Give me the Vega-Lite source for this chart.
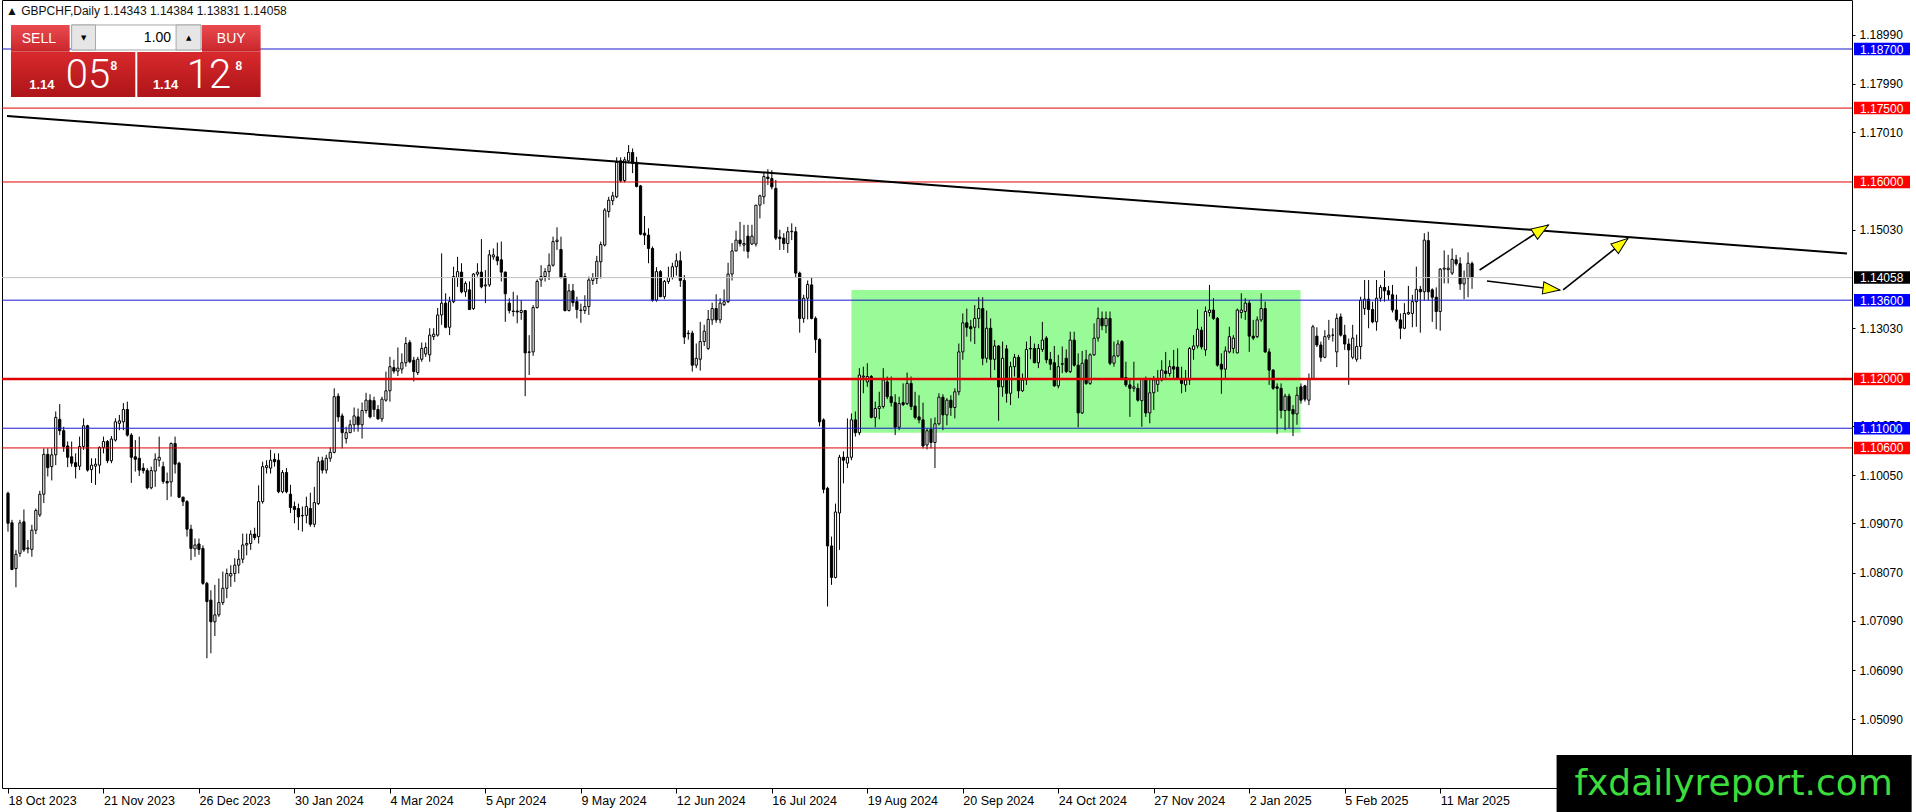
{
  "$schema": "https://vega.github.io/schema/vega-lite/v6.json",
  "width": 1850,
  "height": 788,
  "autosize": {"type": "none"},
  "padding": {"left": 2, "top": 0, "right": 64, "bottom": 24},
  "background": "white",
  "config": {
    "view": {"stroke": "black", "strokeWidth": 1},
    "font": "Liberation Sans",
    "axis": {"grid": false, "domain": false, "tickColor": "black", "labelColor": "black", "labelFont": "Liberation Sans", "labelFontSize": 12}
  },
  "title": {
    "text": "▲ GBPCHF,Daily  1.14343 1.14384 1.13831 1.14058",
    "anchor": "start",
    "frame": "group",
    "orient": "top",
    "offset": -18,
    "dx": 4,
    "fontSize": 12,
    "fontWeight": "normal",
    "font": "Liberation Sans",
    "color": "#111111"
  },
  "resolve": {"scale": {"color": "independent"}},
  "datasets": {
    "candles": [
      {"i":0,"o":1.0968,"h":1.0971,"l":1.0890,"c":1.0907},
      {"i":1,"o":1.0908,"h":1.0914,"l":1.0812,"c":1.0813},
      {"i":2,"o":1.0815,"h":1.0853,"l":1.0777,"c":1.0844},
      {"i":3,"o":1.0846,"h":1.0914,"l":1.0839,"c":1.0908},
      {"i":4,"o":1.0910,"h":1.0935,"l":1.0849,"c":1.0853},
      {"i":5,"o":1.0855,"h":1.0873,"l":1.0846,"c":1.0857},
      {"i":6,"o":1.0854,"h":1.0904,"l":1.0839,"c":1.0893},
      {"i":7,"o":1.0893,"h":1.0937,"l":1.0885,"c":1.0933},
      {"i":8,"o":1.0924,"h":1.0973,"l":1.0920,"c":1.0966},
      {"i":9,"o":1.0966,"h":1.1059,"l":1.0948,"c":1.1047},
      {"i":10,"o":1.1047,"h":1.1059,"l":1.1002,"c":1.1020},
      {"i":11,"o":1.1022,"h":1.1059,"l":1.0994,"c":1.1046},
      {"i":12,"o":1.1046,"h":1.1134,"l":1.1025,"c":1.1122},
      {"i":13,"o":1.1118,"h":1.1149,"l":1.1086,"c":1.1095},
      {"i":14,"o":1.1095,"h":1.1103,"l":1.1052,"c":1.1063},
      {"i":15,"o":1.1064,"h":1.1073,"l":1.1021,"c":1.1041},
      {"i":16,"o":1.1042,"h":1.1073,"l":1.1022,"c":1.1029},
      {"i":17,"o":1.1030,"h":1.1049,"l":1.0998,"c":1.1022},
      {"i":18,"o":1.1023,"h":1.1083,"l":1.1015,"c":1.1063},
      {"i":19,"o":1.1063,"h":1.1120,"l":1.1056,"c":1.1105},
      {"i":20,"o":1.1105,"h":1.1107,"l":1.1012,"c":1.1015},
      {"i":21,"o":1.1016,"h":1.1039,"l":1.0989,"c":1.1025},
      {"i":22,"o":1.1023,"h":1.1039,"l":1.0985,"c":1.1027},
      {"i":23,"o":1.1025,"h":1.1063,"l":1.1008,"c":1.1061},
      {"i":24,"o":1.1061,"h":1.1083,"l":1.1049,"c":1.1073},
      {"i":25,"o":1.1073,"h":1.1076,"l":1.1029,"c":1.1034},
      {"i":26,"o":1.1034,"h":1.1084,"l":1.1029,"c":1.1078},
      {"i":27,"o":1.1076,"h":1.1120,"l":1.1073,"c":1.1113},
      {"i":28,"o":1.1110,"h":1.1127,"l":1.1096,"c":1.1115},
      {"i":29,"o":1.1113,"h":1.1151,"l":1.1096,"c":1.1138},
      {"i":30,"o":1.1138,"h":1.1154,"l":1.1083,"c":1.1086},
      {"i":31,"o":1.1086,"h":1.1090,"l":1.0989,"c":1.1041},
      {"i":32,"o":1.1042,"h":1.1076,"l":1.1012,"c":1.1037},
      {"i":33,"o":1.1039,"h":1.1083,"l":1.1003,"c":1.1015},
      {"i":34,"o":1.1019,"h":1.1029,"l":1.1008,"c":1.1014},
      {"i":35,"o":1.1014,"h":1.1019,"l":1.0976,"c":1.0979},
      {"i":36,"o":1.0979,"h":1.1022,"l":1.0976,"c":1.1014},
      {"i":37,"o":1.1013,"h":1.1049,"l":1.0981,"c":1.1037},
      {"i":38,"o":1.1035,"h":1.1083,"l":1.1022,"c":1.1041},
      {"i":39,"o":1.1022,"h":1.1032,"l":1.0987,"c":1.0992},
      {"i":40,"o":1.0992,"h":1.1010,"l":1.0954,"c":1.0989},
      {"i":41,"o":1.0991,"h":1.1071,"l":1.0961,"c":1.1069},
      {"i":42,"o":1.1069,"h":1.1083,"l":1.1008,"c":1.1027},
      {"i":43,"o":1.1029,"h":1.1032,"l":1.0958,"c":1.0960},
      {"i":44,"o":1.0960,"h":1.0961,"l":1.0942,"c":1.0951},
      {"i":45,"o":1.0951,"h":1.0954,"l":1.0880,"c":1.0895},
      {"i":46,"o":1.0895,"h":1.0904,"l":1.0832,"c":1.0856},
      {"i":47,"o":1.0855,"h":1.0876,"l":1.0839,"c":1.0863},
      {"i":48,"o":1.0865,"h":1.0876,"l":1.0843,"c":1.0854},
      {"i":49,"o":1.0856,"h":1.0862,"l":1.0782,"c":1.0785},
      {"i":50,"o":1.0785,"h":1.0788,"l":1.0633,"c":1.0748},
      {"i":51,"o":1.0751,"h":1.0771,"l":1.0643,"c":1.0707},
      {"i":52,"o":1.0707,"h":1.0782,"l":1.0678,"c":1.0721},
      {"i":53,"o":1.0721,"h":1.0795,"l":1.0717,"c":1.0746},
      {"i":54,"o":1.0746,"h":1.0809,"l":1.0741,"c":1.0775},
      {"i":55,"o":1.0775,"h":1.0815,"l":1.0755,"c":1.0805},
      {"i":56,"o":1.0800,"h":1.0822,"l":1.0778,"c":1.0805},
      {"i":57,"o":1.0805,"h":1.0836,"l":1.0788,"c":1.0822},
      {"i":58,"o":1.0822,"h":1.0853,"l":1.0805,"c":1.0834},
      {"i":59,"o":1.0834,"h":1.0886,"l":1.0826,"c":1.0863},
      {"i":60,"o":1.0863,"h":1.0886,"l":1.0842,"c":1.0866},
      {"i":61,"o":1.0866,"h":1.0893,"l":1.0853,"c":1.0885},
      {"i":62,"o":1.0885,"h":1.0898,"l":1.0873,"c":1.0878},
      {"i":63,"o":1.0880,"h":1.0984,"l":1.0866,"c":1.0951},
      {"i":64,"o":1.0951,"h":1.1032,"l":1.0947,"c":1.1022},
      {"i":65,"o":1.1020,"h":1.1035,"l":1.1008,"c":1.1024},
      {"i":66,"o":1.1019,"h":1.1056,"l":1.1008,"c":1.1035},
      {"i":67,"o":1.1037,"h":1.1049,"l":1.1022,"c":1.1032},
      {"i":68,"o":1.1035,"h":1.1049,"l":1.0968,"c":1.0971},
      {"i":69,"o":1.0971,"h":1.1015,"l":1.0968,"c":1.1010},
      {"i":70,"o":1.1010,"h":1.1019,"l":1.0968,"c":1.0971},
      {"i":71,"o":1.0966,"h":1.0985,"l":1.0928,"c":1.0939},
      {"i":72,"o":1.0941,"h":1.0951,"l":1.0907,"c":1.0935},
      {"i":73,"o":1.0937,"h":1.0947,"l":1.0893,"c":1.0920},
      {"i":74,"o":1.0922,"h":1.0941,"l":1.0890,"c":1.0923},
      {"i":75,"o":1.0923,"h":1.0961,"l":1.0907,"c":1.0941},
      {"i":76,"o":1.0937,"h":1.0969,"l":1.0900,"c":1.0905},
      {"i":77,"o":1.0905,"h":1.0981,"l":1.0899,"c":1.0949},
      {"i":78,"o":1.0947,"h":1.1042,"l":1.0944,"c":1.1032},
      {"i":79,"o":1.1034,"h":1.1042,"l":1.1008,"c":1.1015},
      {"i":80,"o":1.1015,"h":1.1046,"l":1.1008,"c":1.1039},
      {"i":81,"o":1.1039,"h":1.1061,"l":1.1032,"c":1.1051},
      {"i":82,"o":1.1051,"h":1.1181,"l":1.1049,"c":1.1164},
      {"i":83,"o":1.1165,"h":1.1171,"l":1.1113,"c":1.1123},
      {"i":84,"o":1.1125,"h":1.1130,"l":1.1059,"c":1.1091},
      {"i":85,"o":1.1079,"h":1.1103,"l":1.1069,"c":1.1091},
      {"i":86,"o":1.1091,"h":1.1117,"l":1.1090,"c":1.1107},
      {"i":87,"o":1.1107,"h":1.1142,"l":1.1093,"c":1.1125},
      {"i":88,"o":1.1123,"h":1.1140,"l":1.1093,"c":1.1107},
      {"i":89,"o":1.1107,"h":1.1152,"l":1.1079,"c":1.1136},
      {"i":90,"o":1.1136,"h":1.1172,"l":1.1130,"c":1.1157},
      {"i":91,"o":1.1157,"h":1.1169,"l":1.1120,"c":1.1123},
      {"i":92,"o":1.1156,"h":1.1164,"l":1.1123,"c":1.1138},
      {"i":93,"o":1.1138,"h":1.1147,"l":1.1117,"c":1.1119},
      {"i":94,"o":1.1119,"h":1.1164,"l":1.1113,"c":1.1159},
      {"i":95,"o":1.1157,"h":1.1215,"l":1.1154,"c":1.1176},
      {"i":96,"o":1.1176,"h":1.1245,"l":1.1154,"c":1.1225},
      {"i":97,"o":1.1223,"h":1.1239,"l":1.1211,"c":1.1216},
      {"i":98,"o":1.1216,"h":1.1264,"l":1.1206,"c":1.1222},
      {"i":99,"o":1.1220,"h":1.1252,"l":1.1211,"c":1.1233},
      {"i":100,"o":1.1233,"h":1.1285,"l":1.1225,"c":1.1272},
      {"i":101,"o":1.1274,"h":1.1279,"l":1.1232,"c":1.1235},
      {"i":102,"o":1.1238,"h":1.1245,"l":1.1195,"c":1.1215},
      {"i":103,"o":1.1213,"h":1.1245,"l":1.1208,"c":1.1240},
      {"i":104,"o":1.1240,"h":1.1274,"l":1.1235,"c":1.1262},
      {"i":105,"o":1.1251,"h":1.1274,"l":1.1245,"c":1.1264},
      {"i":106,"o":1.1249,"h":1.1303,"l":1.1235,"c":1.1289},
      {"i":107,"o":1.1286,"h":1.1303,"l":1.1279,"c":1.1291},
      {"i":108,"o":1.1289,"h":1.1344,"l":1.1286,"c":1.1330},
      {"i":109,"o":1.1330,"h":1.1455,"l":1.1310,"c":1.1354},
      {"i":110,"o":1.1354,"h":1.1374,"l":1.1303,"c":1.1305},
      {"i":111,"o":1.1305,"h":1.1367,"l":1.1289,"c":1.1357},
      {"i":112,"o":1.1357,"h":1.1428,"l":1.1354,"c":1.1408},
      {"i":113,"o":1.1406,"h":1.1448,"l":1.1387,"c":1.1418},
      {"i":114,"o":1.1417,"h":1.1435,"l":1.1374,"c":1.1377},
      {"i":115,"o":1.1377,"h":1.1398,"l":1.1367,"c":1.1394},
      {"i":116,"o":1.1381,"h":1.1398,"l":1.1340,"c":1.1341},
      {"i":117,"o":1.1343,"h":1.1415,"l":1.1340,"c":1.1413},
      {"i":118,"o":1.1413,"h":1.1435,"l":1.1408,"c":1.1417},
      {"i":119,"o":1.1417,"h":1.1484,"l":1.1384,"c":1.1387},
      {"i":120,"o":1.1389,"h":1.1421,"l":1.1354,"c":1.1391},
      {"i":121,"o":1.1391,"h":1.1462,"l":1.1387,"c":1.1452},
      {"i":122,"o":1.1448,"h":1.1465,"l":1.1442,"c":1.1452},
      {"i":123,"o":1.1448,"h":1.1477,"l":1.1431,"c":1.1440},
      {"i":124,"o":1.1442,"h":1.1479,"l":1.1398,"c":1.1417},
      {"i":125,"o":1.1417,"h":1.1418,"l":1.1316,"c":1.1373},
      {"i":126,"o":1.1354,"h":1.1364,"l":1.1333,"c":1.1339},
      {"i":127,"o":1.1338,"h":1.1377,"l":1.1327,"c":1.1337},
      {"i":128,"o":1.1338,"h":1.1370,"l":1.1313,"c":1.1336},
      {"i":129,"o":1.1335,"h":1.1360,"l":1.1320,"c":1.1339},
      {"i":130,"o":1.1339,"h":1.1340,"l":1.1165,"c":1.1253},
      {"i":131,"o":1.1254,"h":1.1289,"l":1.1208,"c":1.1255},
      {"i":132,"o":1.1255,"h":1.1350,"l":1.1247,"c":1.1345},
      {"i":133,"o":1.1345,"h":1.1402,"l":1.1343,"c":1.1398},
      {"i":134,"o":1.1401,"h":1.1431,"l":1.1387,"c":1.1408},
      {"i":135,"o":1.1408,"h":1.1425,"l":1.1398,"c":1.1418},
      {"i":136,"o":1.1418,"h":1.1455,"l":1.1401,"c":1.1431},
      {"i":137,"o":1.1431,"h":1.1489,"l":1.1428,"c":1.1479},
      {"i":138,"o":1.1479,"h":1.1508,"l":1.1462,"c":1.1482},
      {"i":139,"o":1.1463,"h":1.1489,"l":1.1404,"c":1.1406},
      {"i":140,"o":1.1408,"h":1.1415,"l":1.1337,"c":1.1339},
      {"i":141,"o":1.1339,"h":1.1393,"l":1.1337,"c":1.1379},
      {"i":142,"o":1.1379,"h":1.1393,"l":1.1347,"c":1.1355},
      {"i":143,"o":1.1357,"h":1.1367,"l":1.1323,"c":1.1341},
      {"i":144,"o":1.1339,"h":1.1353,"l":1.1314,"c":1.1340},
      {"i":145,"o":1.1339,"h":1.1370,"l":1.1332,"c":1.1347},
      {"i":146,"o":1.1347,"h":1.1408,"l":1.1330,"c":1.1401},
      {"i":147,"o":1.1400,"h":1.1415,"l":1.1391,"c":1.1406},
      {"i":148,"o":1.1404,"h":1.1450,"l":1.1393,"c":1.1439},
      {"i":149,"o":1.1438,"h":1.1479,"l":1.1404,"c":1.1473},
      {"i":150,"o":1.1472,"h":1.1547,"l":1.1469,"c":1.1543},
      {"i":151,"o":1.1540,"h":1.1570,"l":1.1528,"c":1.1563},
      {"i":152,"o":1.1562,"h":1.1580,"l":1.1553,"c":1.1572},
      {"i":153,"o":1.1570,"h":1.1650,"l":1.1567,"c":1.1640},
      {"i":154,"o":1.1643,"h":1.1650,"l":1.1599,"c":1.1603},
      {"i":155,"o":1.1603,"h":1.1651,"l":1.1599,"c":1.1645},
      {"i":156,"o":1.1643,"h":1.1675,"l":1.1638,"c":1.1660},
      {"i":157,"o":1.1660,"h":1.1668,"l":1.1618,"c":1.1638},
      {"i":158,"o":1.1640,"h":1.1651,"l":1.1589,"c":1.1591},
      {"i":159,"o":1.1592,"h":1.1594,"l":1.1492,"c":1.1494},
      {"i":160,"o":1.1496,"h":1.1531,"l":1.1472,"c":1.1492},
      {"i":161,"o":1.1492,"h":1.1506,"l":1.1435,"c":1.1465},
      {"i":162,"o":1.1465,"h":1.1469,"l":1.1357,"c":1.1360},
      {"i":163,"o":1.1360,"h":1.1427,"l":1.1357,"c":1.1418},
      {"i":164,"o":1.1418,"h":1.1421,"l":1.1366,"c":1.1367},
      {"i":165,"o":1.1367,"h":1.1401,"l":1.1362,"c":1.1398},
      {"i":166,"o":1.1398,"h":1.1428,"l":1.1393,"c":1.1406},
      {"i":167,"o":1.1406,"h":1.1436,"l":1.1402,"c":1.1428},
      {"i":168,"o":1.1428,"h":1.1455,"l":1.1410,"c":1.1440},
      {"i":169,"o":1.1440,"h":1.1459,"l":1.1387,"c":1.1400},
      {"i":170,"o":1.1400,"h":1.1411,"l":1.1271,"c":1.1285},
      {"i":171,"o":1.1293,"h":1.1299,"l":1.1280,"c":1.1292},
      {"i":172,"o":1.1293,"h":1.1298,"l":1.1215,"c":1.1228},
      {"i":173,"o":1.1228,"h":1.1272,"l":1.1222,"c":1.1242},
      {"i":174,"o":1.1240,"h":1.1316,"l":1.1217,"c":1.1276},
      {"i":175,"o":1.1276,"h":1.1310,"l":1.1267,"c":1.1297},
      {"i":176,"o":1.1262,"h":1.1340,"l":1.1259,"c":1.1321},
      {"i":177,"o":1.1320,"h":1.1355,"l":1.1310,"c":1.1343},
      {"i":178,"o":1.1343,"h":1.1372,"l":1.1314,"c":1.1320},
      {"i":179,"o":1.1320,"h":1.1364,"l":1.1313,"c":1.1354},
      {"i":180,"o":1.1351,"h":1.1382,"l":1.1348,"c":1.1357},
      {"i":181,"o":1.1357,"h":1.1436,"l":1.1354,"c":1.1413},
      {"i":182,"o":1.1413,"h":1.1476,"l":1.1400,"c":1.1460},
      {"i":183,"o":1.1460,"h":1.1501,"l":1.1459,"c":1.1482},
      {"i":184,"o":1.1482,"h":1.1519,"l":1.1469,"c":1.1475},
      {"i":185,"o":1.1472,"h":1.1513,"l":1.1459,"c":1.1475},
      {"i":186,"o":1.1490,"h":1.1513,"l":1.1445,"c":1.1459},
      {"i":187,"o":1.1474,"h":1.1513,"l":1.1472,"c":1.1490},
      {"i":188,"o":1.1474,"h":1.1553,"l":1.1469,"c":1.1553},
      {"i":189,"o":1.1553,"h":1.1574,"l":1.1526,"c":1.1572},
      {"i":190,"o":1.1570,"h":1.1620,"l":1.1555,"c":1.1611},
      {"i":191,"o":1.1610,"h":1.1626,"l":1.1594,"c":1.1607},
      {"i":192,"o":1.1607,"h":1.1624,"l":1.1585,"c":1.1590},
      {"i":193,"o":1.1587,"h":1.1604,"l":1.1482,"c":1.1486},
      {"i":194,"o":1.1488,"h":1.1503,"l":1.1462,"c":1.1485},
      {"i":195,"o":1.1486,"h":1.1496,"l":1.1462,"c":1.1475},
      {"i":196,"o":1.1475,"h":1.1509,"l":1.1456,"c":1.1499},
      {"i":197,"o":1.1499,"h":1.1516,"l":1.1482,"c":1.1500},
      {"i":198,"o":1.1499,"h":1.1509,"l":1.1406,"c":1.1415},
      {"i":199,"o":1.1415,"h":1.1418,"l":1.1294,"c":1.1323},
      {"i":200,"o":1.1323,"h":1.1371,"l":1.1314,"c":1.1364},
      {"i":201,"o":1.1364,"h":1.1400,"l":1.1321,"c":1.1392},
      {"i":202,"o":1.1391,"h":1.1406,"l":1.1321,"c":1.1323},
      {"i":203,"o":1.1323,"h":1.1327,"l":1.1253,"c":1.1280},
      {"i":204,"o":1.1280,"h":1.1283,"l":1.1104,"c":1.1113},
      {"i":205,"o":1.1117,"h":1.1120,"l":1.0968,"c":1.0976},
      {"i":206,"o":1.0978,"h":1.0981,"l":1.0738,"c":1.0861},
      {"i":207,"o":1.0861,"h":1.0880,"l":1.0782,"c":1.0797},
      {"i":208,"o":1.0797,"h":1.0947,"l":1.0795,"c":1.0930},
      {"i":209,"o":1.0928,"h":1.1046,"l":1.0853,"c":1.1041},
      {"i":210,"o":1.1041,"h":1.1053,"l":1.0988,"c":1.1035},
      {"i":211,"o":1.1029,"h":1.1120,"l":1.1019,"c":1.1041},
      {"i":212,"o":1.1041,"h":1.1130,"l":1.1035,"c":1.1117},
      {"i":213,"o":1.1117,"h":1.1134,"l":1.1083,"c":1.1091},
      {"i":214,"o":1.1091,"h":1.1222,"l":1.1086,"c":1.1208},
      {"i":215,"o":1.1204,"h":1.1225,"l":1.1171,"c":1.1206},
      {"i":216,"o":1.1194,"h":1.1232,"l":1.1184,"c":1.1205},
      {"i":217,"o":1.1205,"h":1.1208,"l":1.1120,"c":1.1122},
      {"i":218,"o":1.1122,"h":1.1154,"l":1.1102,"c":1.1140},
      {"i":219,"o":1.1140,"h":1.1174,"l":1.1118,"c":1.1144},
      {"i":220,"o":1.1144,"h":1.1222,"l":1.1140,"c":1.1198},
      {"i":221,"o":1.1194,"h":1.1205,"l":1.1159,"c":1.1164},
      {"i":222,"o":1.1164,"h":1.1205,"l":1.1144,"c":1.1152},
      {"i":223,"o":1.1152,"h":1.1169,"l":1.1086,"c":1.1102},
      {"i":224,"o":1.1102,"h":1.1164,"l":1.1096,"c":1.1150},
      {"i":225,"o":1.1152,"h":1.1191,"l":1.1145,"c":1.1148},
      {"i":226,"o":1.1150,"h":1.1213,"l":1.1147,"c":1.1191},
      {"i":227,"o":1.1191,"h":1.1205,"l":1.1137,"c":1.1144},
      {"i":228,"o":1.1145,"h":1.1174,"l":1.1118,"c":1.1122},
      {"i":229,"o":1.1123,"h":1.1167,"l":1.1110,"c":1.1117},
      {"i":230,"o":1.1117,"h":1.1152,"l":1.1059,"c":1.1064},
      {"i":231,"o":1.1066,"h":1.1100,"l":1.1057,"c":1.1095},
      {"i":232,"o":1.1098,"h":1.1120,"l":1.1059,"c":1.1071},
      {"i":233,"o":1.1071,"h":1.1122,"l":1.1019,"c":1.1109},
      {"i":234,"o":1.1109,"h":1.1171,"l":1.1106,"c":1.1163},
      {"i":235,"o":1.1163,"h":1.1169,"l":1.1096,"c":1.1127},
      {"i":236,"o":1.1127,"h":1.1161,"l":1.1106,"c":1.1157},
      {"i":237,"o":1.1157,"h":1.1167,"l":1.1125,"c":1.1142},
      {"i":238,"o":1.1142,"h":1.1181,"l":1.1120,"c":1.1174},
      {"i":239,"o":1.1174,"h":1.1272,"l":1.1167,"c":1.1255},
      {"i":240,"o":1.1255,"h":1.1333,"l":1.1239,"c":1.1314},
      {"i":241,"o":1.1314,"h":1.1343,"l":1.1286,"c":1.1305},
      {"i":242,"o":1.1306,"h":1.1320,"l":1.1276,"c":1.1302},
      {"i":243,"o":1.1305,"h":1.1350,"l":1.1271,"c":1.1323},
      {"i":244,"o":1.1323,"h":1.1366,"l":1.1303,"c":1.1343},
      {"i":245,"o":1.1343,"h":1.1366,"l":1.1228,"c":1.1242},
      {"i":246,"o":1.1242,"h":1.1339,"l":1.1233,"c":1.1303},
      {"i":247,"o":1.1303,"h":1.1323,"l":1.1198,"c":1.1240},
      {"i":248,"o":1.1240,"h":1.1279,"l":1.1218,"c":1.1267},
      {"i":249,"o":1.1267,"h":1.1269,"l":1.1115,"c":1.1184},
      {"i":250,"o":1.1184,"h":1.1276,"l":1.1164,"c":1.1242},
      {"i":251,"o":1.1261,"h":1.1269,"l":1.1152,"c":1.1171},
      {"i":252,"o":1.1171,"h":1.1235,"l":1.1147,"c":1.1225},
      {"i":253,"o":1.1225,"h":1.1251,"l":1.1205,"c":1.1244},
      {"i":254,"o":1.1244,"h":1.1249,"l":1.1161,"c":1.1176},
      {"i":255,"o":1.1176,"h":1.1211,"l":1.1174,"c":1.1198},
      {"i":256,"o":1.1198,"h":1.1276,"l":1.1188,"c":1.1260},
      {"i":257,"o":1.1262,"h":1.1287,"l":1.1240,"c":1.1261},
      {"i":258,"o":1.1262,"h":1.1272,"l":1.1232,"c":1.1233},
      {"i":259,"o":1.1233,"h":1.1271,"l":1.1222,"c":1.1262},
      {"i":260,"o":1.1260,"h":1.1316,"l":1.1255,"c":1.1279},
      {"i":261,"o":1.1283,"h":1.1287,"l":1.1232,"c":1.1239},
      {"i":262,"o":1.1240,"h":1.1255,"l":1.1218,"c":1.1230},
      {"i":263,"o":1.1233,"h":1.1267,"l":1.1184,"c":1.1186},
      {"i":264,"o":1.1186,"h":1.1249,"l":1.1181,"c":1.1225},
      {"i":265,"o":1.1231,"h":1.1266,"l":1.1212,"c":1.1230},
      {"i":266,"o":1.1242,"h":1.1260,"l":1.1212,"c":1.1215},
      {"i":267,"o":1.1215,"h":1.1296,"l":1.1212,"c":1.1279},
      {"i":268,"o":1.1279,"h":1.1296,"l":1.1225,"c":1.1228},
      {"i":269,"o":1.1228,"h":1.1252,"l":1.1102,"c":1.1131},
      {"i":270,"o":1.1131,"h":1.1257,"l":1.1129,"c":1.1232},
      {"i":271,"o":1.1239,"h":1.1259,"l":1.1188,"c":1.1191},
      {"i":272,"o":1.1191,"h":1.1252,"l":1.1188,"c":1.1249},
      {"i":273,"o":1.1249,"h":1.1313,"l":1.1247,"c":1.1283},
      {"i":274,"o":1.1283,"h":1.1345,"l":1.1276,"c":1.1323},
      {"i":275,"o":1.1323,"h":1.1337,"l":1.1299,"c":1.1308},
      {"i":276,"o":1.1308,"h":1.1337,"l":1.1293,"c":1.1323},
      {"i":277,"o":1.1323,"h":1.1337,"l":1.1228,"c":1.1232},
      {"i":278,"o":1.1232,"h":1.1276,"l":1.1225,"c":1.1247},
      {"i":279,"o":1.1247,"h":1.1279,"l":1.1244,"c":1.1271},
      {"i":280,"o":1.1276,"h":1.1279,"l":1.1198,"c":1.1201},
      {"i":281,"o":1.1203,"h":1.1235,"l":1.1184,"c":1.1188},
      {"i":282,"o":1.1188,"h":1.1201,"l":1.1123,"c":1.1181},
      {"i":283,"o":1.1181,"h":1.1235,"l":1.1174,"c":1.1184},
      {"i":284,"o":1.1181,"h":1.1191,"l":1.1154,"c":1.1157},
      {"i":285,"o":1.1156,"h":1.1199,"l":1.1103,"c":1.1199},
      {"i":286,"o":1.1199,"h":1.1205,"l":1.1123,"c":1.1131},
      {"i":287,"o":1.1131,"h":1.1198,"l":1.1110,"c":1.1172},
      {"i":288,"o":1.1172,"h":1.1206,"l":1.1137,"c":1.1198},
      {"i":289,"o":1.1189,"h":1.1218,"l":1.1174,"c":1.1198},
      {"i":290,"o":1.1198,"h":1.1238,"l":1.1195,"c":1.1218},
      {"i":291,"o":1.1216,"h":1.1255,"l":1.1198,"c":1.1211},
      {"i":292,"o":1.1211,"h":1.1238,"l":1.1205,"c":1.1225},
      {"i":293,"o":1.1225,"h":1.1259,"l":1.1198,"c":1.1220},
      {"i":294,"o":1.1224,"h":1.1262,"l":1.1198,"c":1.1201},
      {"i":295,"o":1.1201,"h":1.1225,"l":1.1171,"c":1.1191},
      {"i":296,"o":1.1188,"h":1.1218,"l":1.1174,"c":1.1198},
      {"i":297,"o":1.1198,"h":1.1265,"l":1.1188,"c":1.1262},
      {"i":298,"o":1.1260,"h":1.1289,"l":1.1239,"c":1.1267},
      {"i":299,"o":1.1267,"h":1.1341,"l":1.1262,"c":1.1301},
      {"i":300,"o":1.1299,"h":1.1306,"l":1.1260,"c":1.1265},
      {"i":301,"o":1.1259,"h":1.1347,"l":1.1247,"c":1.1337},
      {"i":302,"o":1.1335,"h":1.1391,"l":1.1327,"c":1.1340},
      {"i":303,"o":1.1340,"h":1.1364,"l":1.1320,"c":1.1323},
      {"i":304,"o":1.1323,"h":1.1326,"l":1.1225,"c":1.1228},
      {"i":305,"o":1.1230,"h":1.1252,"l":1.1170,"c":1.1220},
      {"i":306,"o":1.1220,"h":1.1266,"l":1.1198,"c":1.1257},
      {"i":307,"o":1.1255,"h":1.1306,"l":1.1252,"c":1.1286},
      {"i":308,"o":1.1262,"h":1.1289,"l":1.1252,"c":1.1283},
      {"i":309,"o":1.1253,"h":1.1343,"l":1.1252,"c":1.1340},
      {"i":310,"o":1.1335,"h":1.1374,"l":1.1323,"c":1.1340},
      {"i":311,"o":1.1337,"h":1.1364,"l":1.1320,"c":1.1354},
      {"i":312,"o":1.1354,"h":1.1360,"l":1.1255,"c":1.1287},
      {"i":313,"o":1.1287,"h":1.1320,"l":1.1279,"c":1.1283},
      {"i":314,"o":1.1286,"h":1.1327,"l":1.1283,"c":1.1320},
      {"i":315,"o":1.1320,"h":1.1374,"l":1.1316,"c":1.1343},
      {"i":316,"o":1.1343,"h":1.1357,"l":1.1253,"c":1.1255},
      {"i":317,"o":1.1255,"h":1.1262,"l":1.1188,"c":1.1218},
      {"i":318,"o":1.1218,"h":1.1220,"l":1.1178,"c":1.1181},
      {"i":319,"o":1.1184,"h":1.1191,"l":1.1088,"c":1.1181},
      {"i":320,"o":1.1181,"h":1.1191,"l":1.1120,"c":1.1136},
      {"i":321,"o":1.1136,"h":1.1170,"l":1.1096,"c":1.1165},
      {"i":322,"o":1.1165,"h":1.1170,"l":1.1100,"c":1.1136},
      {"i":323,"o":1.1138,"h":1.1147,"l":1.1084,"c":1.1129},
      {"i":324,"o":1.1129,"h":1.1184,"l":1.1107,"c":1.1167},
      {"i":325,"o":1.1184,"h":1.1191,"l":1.1150,"c":1.1157},
      {"i":326,"o":1.1186,"h":1.1188,"l":1.1154,"c":1.1159},
      {"i":327,"o":1.1157,"h":1.1211,"l":1.1147,"c":1.1201},
      {"i":328,"o":1.1201,"h":1.1310,"l":1.1198,"c":1.1306},
      {"i":329,"o":1.1287,"h":1.1305,"l":1.1265,"c":1.1269},
      {"i":330,"o":1.1269,"h":1.1276,"l":1.1235,"c":1.1244},
      {"i":331,"o":1.1244,"h":1.1299,"l":1.1242,"c":1.1286},
      {"i":332,"o":1.1285,"h":1.1320,"l":1.1279,"c":1.1289},
      {"i":333,"o":1.1289,"h":1.1303,"l":1.1276,"c":1.1289},
      {"i":334,"o":1.1255,"h":1.1333,"l":1.1224,"c":1.1323},
      {"i":335,"o":1.1326,"h":1.1333,"l":1.1286,"c":1.1289},
      {"i":336,"o":1.1289,"h":1.1310,"l":1.1259,"c":1.1271},
      {"i":337,"o":1.1271,"h":1.1282,"l":1.1188,"c":1.1259},
      {"i":338,"o":1.1244,"h":1.1310,"l":1.1240,"c":1.1283},
      {"i":339,"o":1.1240,"h":1.1290,"l":1.1235,"c":1.1266},
      {"i":340,"o":1.1266,"h":1.1367,"l":1.1240,"c":1.1360},
      {"i":341,"o":1.1343,"h":1.1401,"l":1.1330,"c":1.1362},
      {"i":342,"o":1.1362,"h":1.1401,"l":1.1303,"c":1.1341},
      {"i":343,"o":1.1341,"h":1.1357,"l":1.1313,"c":1.1316},
      {"i":344,"o":1.1316,"h":1.1401,"l":1.1298,"c":1.1364},
      {"i":345,"o":1.1364,"h":1.1391,"l":1.1357,"c":1.1386},
      {"i":346,"o":1.1386,"h":1.1420,"l":1.1357,"c":1.1379},
      {"i":347,"o":1.1379,"h":1.1389,"l":1.1360,"c":1.1371},
      {"i":348,"o":1.1371,"h":1.1391,"l":1.1335,"c":1.1340},
      {"i":349,"o":1.1340,"h":1.1371,"l":1.1316,"c":1.1320},
      {"i":350,"o":1.1320,"h":1.1333,"l":1.1281,"c":1.1303},
      {"i":351,"o":1.1303,"h":1.1354,"l":1.1301,"c":1.1333},
      {"i":352,"o":1.1332,"h":1.1389,"l":1.1330,"c":1.1335},
      {"i":353,"o":1.1333,"h":1.1371,"l":1.1305,"c":1.1357},
      {"i":354,"o":1.1357,"h":1.1428,"l":1.1306,"c":1.1382},
      {"i":355,"o":1.1382,"h":1.1389,"l":1.1294,"c":1.1377},
      {"i":356,"o":1.1377,"h":1.1496,"l":1.1359,"c":1.1482},
      {"i":357,"o":1.1481,"h":1.1499,"l":1.1359,"c":1.1377},
      {"i":358,"o":1.1381,"h":1.1384,"l":1.1316,"c":1.1366},
      {"i":359,"o":1.1366,"h":1.1386,"l":1.1301,"c":1.1337},
      {"i":360,"o":1.1337,"h":1.1425,"l":1.1298,"c":1.1423},
      {"i":361,"o":1.1423,"h":1.1461,"l":1.1394,"c":1.1425},
      {"i":362,"o":1.1422,"h":1.1452,"l":1.1394,"c":1.1425},
      {"i":363,"o":1.1415,"h":1.1465,"l":1.1411,"c":1.1443},
      {"i":364,"o":1.1442,"h":1.1452,"l":1.1430,"c":1.1434},
      {"i":365,"o":1.1434,"h":1.1447,"l":1.1381,"c":1.1393},
      {"i":366,"o":1.1393,"h":1.1420,"l":1.1362,"c":1.1405},
      {"i":367,"o":1.1405,"h":1.1457,"l":1.1366,"c":1.1435},
      {"i":368,"o":1.14343,"h":1.14384,"l":1.13831,"c":1.14058}
    ],
    "levels": [
      {"p":1.187,"k":"blue"},
      {"p":1.175,"k":"red"},
      {"p":1.16,"k":"red"},
      {"p":1.14058,"k":"last"},
      {"p":1.136,"k":"blue"},
      {"p":1.12,"k":"red"},
      {"p":1.11,"k":"blue"},
      {"p":1.106,"k":"red"}
    ],
    "zone": [{"from":212.0,"to":324.9,"low":1.10909,"high":1.13806}],
    "trend": [{"i":-0.25,"p":1.1734},{"i":462.25,"p":1.1455}],
    "arrows": [
      {"a":1,"i":369.9,"p":1.14213},{"a":1,"i":387.2,"p":1.15127},
      {"a":2,"i":371.75,"p":1.1399},{"a":2,"i":390.1,"p":1.13807},
      {"a":3,"i":390.9,"p":1.13807},{"a":3,"i":407.2,"p":1.14856}
    ],
    "heads": [
      {"i":387.2,"p":1.15127,"deg":57},
      {"i":390.1,"p":1.13807,"deg":97},
      {"i":407.2,"p":1.14856,"deg":52}
    ]
  },
  "layer": [
    {
      "data": {"name": "zone"},
      "mark": {"type": "rect", "color": "#98fb98", "opacity": 1},
      "encoding": {
        "x": {"field": "from", "type": "quantitative", "scale": {"domain": [-0.25, 462.25], "nice": false, "zero": false}, "title": null},
        "x2": {"field": "to"},
        "y": {"field": "low", "type": "quantitative", "scale": {"domain": [1.03695, 1.19695], "nice": false, "zero": false}, "title": null},
        "y2": {"field": "high"}
      }
    },
    {
      "data": {"name": "candles"},
      "mark": {"type": "rule", "color": "black", "strokeWidth": 1},
      "encoding": {
        "x": {
          "field": "i", "type": "quantitative", "title": null,
          "scale": {"domain": [-0.25, 462.25], "nice": false, "zero": false},
          "axis": {
            "values": [0, 24, 48, 72, 96, 120, 144, 168, 192, 216, 240, 264, 288, 312, 336, 360],
            "labelExpr": "['18 Oct 2023','21 Nov 2023','26 Dec 2023','30 Jan 2024','4 Mar 2024','5 Apr 2024','9 May 2024','12 Jun 2024','16 Jul 2024','19 Aug 2024','20 Sep 2024','24 Oct 2024','27 Nov 2024','2 Jan 2025','5 Feb 2025','11 Mar 2025'][round(datum.value / 24)]",
            "labelAlign": "left",
            "labelBaseline": "top",
            "labelPadding": 1,
            "labelFont": "Liberation Sans",
            "labelFontSize": 12.5,
            "labelColor": "black",
            "labelFlush": false,
            "labelOverlap": false,
            "tickSize": 5,
            "tickColor": "black",
            "domain": false,
            "grid": false,
            "zindex": 0
          }
        },
        "y": {
          "field": "l", "type": "quantitative", "title": null,
          "scale": {"domain": [1.03695, 1.19695], "nice": false, "zero": false},
          "axis": {
            "orient": "right",
            "values": [1.1899, 1.1799, 1.1701, 1.1503, 1.1303, 1.1105, 1.1005, 1.0907, 1.0807, 1.0709, 1.0609, 1.0509],
            "format": ".5f",
            "labelFont": "Liberation Sans",
            "labelFontSize": 12,
            "labelColor": "black",
            "labelPadding": 4,
            "labelOverlap": false,
            "labelFlush": false,
            "tickSize": 3,
            "tickColor": "black",
            "domain": false,
            "grid": false,
            "zindex": 0
          }
        },
        "y2": {"field": "h"}
      }
    },
    {
      "data": {"name": "candles"},
      "mark": {"type": "bar", "width": 2.2, "stroke": "black", "strokeWidth": 1},
      "encoding": {
        "x": {"field": "i", "type": "quantitative", "scale": {"domain": [-0.25, 462.25], "nice": false, "zero": false}, "title": null},
        "y": {"field": "o", "type": "quantitative", "scale": {"domain": [1.03695, 1.19695], "nice": false, "zero": false}, "title": null},
        "y2": {"field": "c"},
        "fill": {"condition": {"test": "datum.c >= datum.o", "value": "white"}, "value": "black"}
      }
    },
    {
      "data": {"name": "levels"},
      "mark": {"type": "rule"},
      "encoding": {
        "y": {"field": "p", "type": "quantitative", "scale": {"domain": [1.03695, 1.19695], "nice": false, "zero": false}, "title": null},
        "color": {"field": "k", "type": "nominal", "scale": {"domain": ["blue", "red", "last"], "range": ["#1a1acc", "#e00000", "#c0c0c0"]}, "legend": null},
        "strokeWidth": {"condition": {"test": "datum.p === 1.12", "value": 2.5}, "value": 1}
      }
    },
    {
      "data": {"name": "trend"},
      "mark": {"type": "line", "color": "black", "strokeWidth": 2},
      "encoding": {
        "x": {"field": "i", "type": "quantitative", "scale": {"domain": [-0.25, 462.25], "nice": false, "zero": false}, "title": null},
        "y": {"field": "p", "type": "quantitative", "scale": {"domain": [1.03695, 1.19695], "nice": false, "zero": false}, "title": null}
      }
    },
    {
      "data": {"name": "arrows"},
      "mark": {"type": "line", "color": "black", "strokeWidth": 1.6},
      "encoding": {
        "x": {"field": "i", "type": "quantitative", "scale": {"domain": [-0.25, 462.25], "nice": false, "zero": false}, "title": null},
        "y": {"field": "p", "type": "quantitative", "scale": {"domain": [1.03695, 1.19695], "nice": false, "zero": false}, "title": null},
        "detail": {"field": "a", "type": "nominal"}
      }
    },
    {
      "data": {"name": "heads"},
      "mark": {"type": "point", "shape": "M0,0L0.36,1L-0.36,1Z", "size": 1150, "filled": true, "fill": "#ffff00", "stroke": "black", "strokeWidth": 1, "opacity": 1},
      "encoding": {
        "x": {"field": "i", "type": "quantitative", "scale": {"domain": [-0.25, 462.25], "nice": false, "zero": false}, "title": null},
        "y": {"field": "p", "type": "quantitative", "scale": {"domain": [1.03695, 1.19695], "nice": false, "zero": false}, "title": null},
        "angle": {"field": "deg", "type": "quantitative", "scale": null}
      }
    },
    {
      "data": {"name": "levels"},
      "mark": {"type": "rule", "strokeWidth": 12.5, "strokeCap": "butt"},
      "encoding": {
        "y": {"field": "p", "type": "quantitative", "scale": {"domain": [1.03695, 1.19695], "nice": false, "zero": false}, "title": null},
        "x": {"value": {"expr": "width + 2"}},
        "x2": {"value": {"expr": "width + 58"}},
        "color": {"field": "k", "type": "nominal", "scale": {"domain": ["blue", "red", "last"], "range": ["#0000ff", "#ff0000", "#000000"]}, "legend": null}
      }
    },
    {
      "data": {"name": "levels"},
      "mark": {"type": "text", "align": "left", "baseline": "middle", "color": "white", "font": "Liberation Sans", "fontSize": 12, "dy": 0.5},
      "encoding": {
        "y": {"field": "p", "type": "quantitative", "scale": {"domain": [1.03695, 1.19695], "nice": false, "zero": false}, "title": null},
        "x": {"value": {"expr": "width + 8"}},
        "text": {"field": "p", "type": "quantitative", "format": ".5f"}
      }
    },
    {
      "data": {"values": [{}]},
      "mark": {"type": "rect", "fill": {"gradient": "linear", "x1": 0, "y1": 0, "x2": 0, "y2": 1, "stops": [{"offset": 0, "color": "#ea4b4e"}, {"offset": 1, "color": "#c9262b"}]}},
      "encoding": {
        "x": {"datum": 0.75, "type": "quantitative", "scale": {"domain": [-0.25, 462.25], "nice": false, "zero": false}, "title": null},
        "x2": {"datum": 15.5},
        "y": {"datum": 1.19188, "type": "quantitative", "scale": {"domain": [1.03695, 1.19695], "nice": false, "zero": false}, "title": null},
        "y2": {"datum": 1.18646}
      }
    },
    {
      "data": {"values": [{}]},
      "mark": {"type": "rect", "fill": {"gradient": "linear", "x1": 0, "y1": 0, "x2": 0, "y2": 1, "stops": [{"offset": 0, "color": "#ea4b4e"}, {"offset": 1, "color": "#c9262b"}]}},
      "encoding": {
        "x": {"datum": 48.75, "type": "quantitative", "scale": {"domain": [-0.25, 462.25], "nice": false, "zero": false}, "title": null},
        "x2": {"datum": 63.5},
        "y": {"datum": 1.19188, "type": "quantitative", "scale": {"domain": [1.03695, 1.19695], "nice": false, "zero": false}, "title": null},
        "y2": {"datum": 1.18646}
      }
    },
    {
      "data": {"values": [{}]},
      "mark": {"type": "rect", "fill": "white", "stroke": "#a8a8a8", "strokeWidth": 1},
      "encoding": {
        "x": {"datum": 16, "type": "quantitative", "scale": {"domain": [-0.25, 462.25], "nice": false, "zero": false}, "title": null},
        "x2": {"datum": 48.5},
        "y": {"datum": 1.19188, "type": "quantitative", "scale": {"domain": [1.03695, 1.19695], "nice": false, "zero": false}, "title": null},
        "y2": {"datum": 1.1868}
      }
    },
    {
      "data": {"values": [{}]},
      "mark": {"type": "rect", "fill": "#e6e6e6", "stroke": "#a8a8a8", "strokeWidth": 1},
      "encoding": {
        "x": {"datum": 16, "type": "quantitative", "scale": {"domain": [-0.25, 462.25], "nice": false, "zero": false}, "title": null},
        "x2": {"datum": 22},
        "y": {"datum": 1.19188, "type": "quantitative", "scale": {"domain": [1.03695, 1.19695], "nice": false, "zero": false}, "title": null},
        "y2": {"datum": 1.1868}
      }
    },
    {
      "data": {"values": [{}]},
      "mark": {"type": "rect", "fill": "#e6e6e6", "stroke": "#a8a8a8", "strokeWidth": 1},
      "encoding": {
        "x": {"datum": 42.25, "type": "quantitative", "scale": {"domain": [-0.25, 462.25], "nice": false, "zero": false}, "title": null},
        "x2": {"datum": 48.5},
        "y": {"datum": 1.19188, "type": "quantitative", "scale": {"domain": [1.03695, 1.19695], "nice": false, "zero": false}, "title": null},
        "y2": {"datum": 1.1868}
      }
    },
    {
      "data": {"values": [{}]},
      "mark": {"type": "rect", "fill": {"gradient": "linear", "x1": 0, "y1": 0, "x2": 0, "y2": 1, "stops": [{"offset": 0, "color": "#d82a2d"}, {"offset": 1, "color": "#ae1418"}]}},
      "encoding": {
        "x": {"datum": 0.75, "type": "quantitative", "scale": {"domain": [-0.25, 462.25], "nice": false, "zero": false}, "title": null},
        "x2": {"datum": 32},
        "y": {"datum": 1.1864, "type": "quantitative", "scale": {"domain": [1.03695, 1.19695], "nice": false, "zero": false}, "title": null},
        "y2": {"datum": 1.17726}
      }
    },
    {
      "data": {"values": [{}]},
      "mark": {"type": "rect", "fill": {"gradient": "linear", "x1": 0, "y1": 0, "x2": 0, "y2": 1, "stops": [{"offset": 0, "color": "#d82a2d"}, {"offset": 1, "color": "#ae1418"}]}},
      "encoding": {
        "x": {"datum": 32.5, "type": "quantitative", "scale": {"domain": [-0.25, 462.25], "nice": false, "zero": false}, "title": null},
        "x2": {"datum": 63.5},
        "y": {"datum": 1.1864, "type": "quantitative", "scale": {"domain": [1.03695, 1.19695], "nice": false, "zero": false}, "title": null},
        "y2": {"datum": 1.17726}
      }
    },
    {
      "data": {"values": [{}]},
      "mark": {"type": "text", "text": "SELL", "color": "white", "font": "Liberation Sans", "fontSize": 14, "align": "center", "baseline": "middle"},
      "encoding": {
        "x": {"datum": 7.75, "type": "quantitative", "scale": {"domain": [-0.25, 462.25], "nice": false, "zero": false}, "title": null},
        "y": {"datum": 1.18903, "type": "quantitative", "scale": {"domain": [1.03695, 1.19695], "nice": false, "zero": false}, "title": null}
      }
    },
    {
      "data": {"values": [{}]},
      "mark": {"type": "text", "text": "BUY", "color": "white", "font": "Liberation Sans", "fontSize": 14, "align": "center", "baseline": "middle"},
      "encoding": {
        "x": {"datum": 56.1, "type": "quantitative", "scale": {"domain": [-0.25, 462.25], "nice": false, "zero": false}, "title": null},
        "y": {"datum": 1.18903, "type": "quantitative", "scale": {"domain": [1.03695, 1.19695], "nice": false, "zero": false}, "title": null}
      }
    },
    {
      "data": {"values": [{}]},
      "mark": {"type": "text", "text": "1.00", "color": "black", "font": "Liberation Sans", "fontSize": 14, "align": "right", "baseline": "middle"},
      "encoding": {
        "x": {"datum": 41, "type": "quantitative", "scale": {"domain": [-0.25, 462.25], "nice": false, "zero": false}, "title": null},
        "y": {"datum": 1.18923, "type": "quantitative", "scale": {"domain": [1.03695, 1.19695], "nice": false, "zero": false}, "title": null}
      }
    },
    {
      "data": {"values": [{}]},
      "mark": {"type": "text", "text": "▼", "color": "black", "font": "DejaVu Sans", "fontSize": 7, "align": "center", "baseline": "middle"},
      "encoding": {
        "x": {"datum": 19, "type": "quantitative", "scale": {"domain": [-0.25, 462.25], "nice": false, "zero": false}, "title": null},
        "y": {"datum": 1.18923, "type": "quantitative", "scale": {"domain": [1.03695, 1.19695], "nice": false, "zero": false}, "title": null}
      }
    },
    {
      "data": {"values": [{}]},
      "mark": {"type": "text", "text": "▲", "color": "black", "font": "DejaVu Sans", "fontSize": 7, "align": "center", "baseline": "middle"},
      "encoding": {
        "x": {"datum": 45.4, "type": "quantitative", "scale": {"domain": [-0.25, 462.25], "nice": false, "zero": false}, "title": null},
        "y": {"datum": 1.18923, "type": "quantitative", "scale": {"domain": [1.03695, 1.19695], "nice": false, "zero": false}, "title": null}
      }
    },
    {
      "data": {"values": [{}]},
      "mark": {"type": "text", "text": "1.14", "color": "white", "font": "Liberation Sans", "fontSize": 13, "fontWeight": "bold", "align": "center", "baseline": "alphabetic"},
      "encoding": {
        "x": {"datum": 8.5, "type": "quantitative", "scale": {"domain": [-0.25, 462.25], "nice": false, "zero": false}, "title": null},
        "y": {"datum": 1.17888, "type": "quantitative", "scale": {"domain": [1.03695, 1.19695], "nice": false, "zero": false}, "title": null}
      }
    },
    {
      "data": {"values": [{}]},
      "mark": {"type": "text", "text": "05", "color": "white", "font": "Roboto", "fontSize": 40, "fontWeight": 300, "align": "center", "baseline": "alphabetic"},
      "encoding": {
        "x": {"datum": 20.1, "type": "quantitative", "scale": {"domain": [-0.25, 462.25], "nice": false, "zero": false}, "title": null},
        "y": {"datum": 1.17908, "type": "quantitative", "scale": {"domain": [1.03695, 1.19695], "nice": false, "zero": false}, "title": null}
      }
    },
    {
      "data": {"values": [{}]},
      "mark": {"type": "text", "text": "8", "color": "white", "font": "Liberation Sans", "fontSize": 12, "fontWeight": "bold", "align": "center", "baseline": "alphabetic"},
      "encoding": {
        "x": {"datum": 26.6, "type": "quantitative", "scale": {"domain": [-0.25, 462.25], "nice": false, "zero": false}, "title": null},
        "y": {"datum": 1.18274, "type": "quantitative", "scale": {"domain": [1.03695, 1.19695], "nice": false, "zero": false}, "title": null}
      }
    },
    {
      "data": {"values": [{}]},
      "mark": {"type": "text", "text": "1.14", "color": "white", "font": "Liberation Sans", "fontSize": 13, "fontWeight": "bold", "align": "center", "baseline": "alphabetic"},
      "encoding": {
        "x": {"datum": 39.6, "type": "quantitative", "scale": {"domain": [-0.25, 462.25], "nice": false, "zero": false}, "title": null},
        "y": {"datum": 1.17888, "type": "quantitative", "scale": {"domain": [1.03695, 1.19695], "nice": false, "zero": false}, "title": null}
      }
    },
    {
      "data": {"values": [{}]},
      "mark": {"type": "text", "text": "12", "color": "white", "font": "Roboto", "fontSize": 40, "fontWeight": 300, "align": "center", "baseline": "alphabetic"},
      "encoding": {
        "x": {"datum": 50.5, "type": "quantitative", "scale": {"domain": [-0.25, 462.25], "nice": false, "zero": false}, "title": null},
        "y": {"datum": 1.17908, "type": "quantitative", "scale": {"domain": [1.03695, 1.19695], "nice": false, "zero": false}, "title": null}
      }
    },
    {
      "data": {"values": [{}]},
      "mark": {"type": "text", "text": "8", "color": "white", "font": "Liberation Sans", "fontSize": 12, "fontWeight": "bold", "align": "center", "baseline": "alphabetic"},
      "encoding": {
        "x": {"datum": 58, "type": "quantitative", "scale": {"domain": [-0.25, 462.25], "nice": false, "zero": false}, "title": null},
        "y": {"datum": 1.18274, "type": "quantitative", "scale": {"domain": [1.03695, 1.19695], "nice": false, "zero": false}, "title": null}
      }
    },
    {
      "data": {"values": [{}]},
      "mark": {"type": "rect", "color": "black"},
      "encoding": {
        "x": {"datum": 389.25, "type": "quantitative", "scale": {"domain": [-0.25, 462.25], "nice": false, "zero": false}, "title": null},
        "x2": {"datum": 478.5},
        "y": {"datum": 1.04365, "type": "quantitative", "scale": {"domain": [1.03695, 1.19695], "nice": false, "zero": false}, "title": null},
        "y2": {"datum": 1.032}
      }
    },
    {
      "data": {"values": [{}]},
      "mark": {"type": "text", "text": "fxdailyreport.com", "color": "#3ddc3d", "font": "DejaVu Sans", "fontSize": 36, "align": "center", "baseline": "middle"},
      "encoding": {
        "x": {"datum": 433.75, "type": "quantitative", "scale": {"domain": [-0.25, 462.25], "nice": false, "zero": false}, "title": null},
        "y": {"datum": 1.0378, "type": "quantitative", "scale": {"domain": [1.03695, 1.19695], "nice": false, "zero": false}, "title": null}
      }
    }
  ]
}
